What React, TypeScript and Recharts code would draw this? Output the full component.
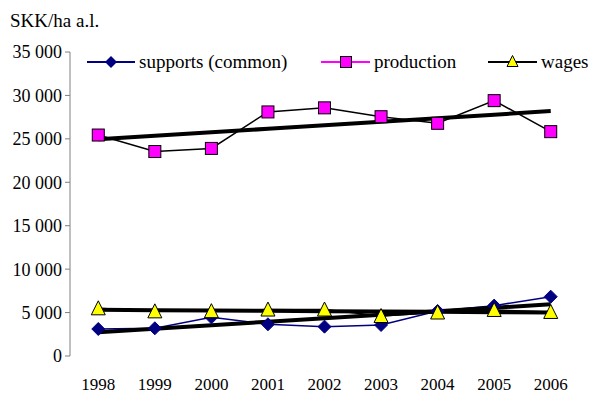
import React from 'react';
import { LineChart, Line, XAxis, YAxis, Legend } from 'recharts';

// Yearly figures, SKK per hectare of agricultural land
const years = ['1998', '1999', '2000', '2001', '2002', '2003', '2004', '2005', '2006'];
const supports = [3110, 3190, 4450, 3650, 3380, 3570, 5180, 5800, 6830];
const production = [25440, 23540, 23900, 28100, 28570, 27550, 26790, 29400, 25830];
const wages = [5490, 5140, 5160, 5350, 5350, 4600, 5010, 5300, 5070];
const yTicks = [0, 5000, 10000, 15000, 20000, 25000, 30000, 35000];

const NAVY = '#000080';
const MAGENTA = '#FF00FF';
const YELLOW = '#FFFF00';
const AXIS = '#808080';
const FONT = '"Liberation Serif", "Times New Roman", serif';

// Least-squares linear trend evaluated at each category
function linearTrend(values: number[]): number[] {
  const n = values.length;
  const mx = (n - 1) / 2;
  const my = values.reduce((a, b) => a + b, 0) / n;
  let sxy = 0;
  let sxx = 0;
  values.forEach((v, i) => {
    sxy += (i - mx) * (v - my);
    sxx += (i - mx) * (i - mx);
  });
  const slope = sxy / sxx;
  return values.map((_, i) => my + slope * (i - mx));
}

const supportsTrend = linearTrend(supports);
const productionTrend = linearTrend(production);
const wagesTrend = linearTrend(wages);

const data = years.map((year, i) => ({
  x: i + 0.5,
  year,
  supports: supports[i],
  production: production[i],
  wages: wages[i],
  supportsTrend: supportsTrend[i],
  productionTrend: productionTrend[i],
  wagesTrend: wagesTrend[i],
}));

const boundaryTicks = years.map((_, i) => i).concat([years.length]);
const centerTicks = years.map((_, i) => i + 0.5);

const fmt = (v: number) => {
  const s = String(Math.round(v));
  return s.replace(/\B(?=(\d{3})+(?!\d))/g, ' ');
};

const yTickStyle = { fontFamily: FONT, fontSize: 18, fill: '#000', style: { fontFamily: FONT } };
const xTickStyle = { fontFamily: FONT, fontSize: 17, fill: '#000', style: { fontFamily: FONT } };

const DiamondDot = (props: any) => {
  const { cx, cy, index } = props;
  if (cx == null || cy == null) return null;
  const r = 6.5;
  return (
    <polygon
      key={`d-${index}`}
      points={`${cx},${cy - r} ${cx + r},${cy} ${cx},${cy + r} ${cx - r},${cy}`}
      fill={NAVY}
      stroke={NAVY}
      strokeWidth={1}
    />
  );
};

const SquareDot = (props: any) => {
  const { cx, cy, index } = props;
  if (cx == null || cy == null) return null;
  const h = 6;
  return (
    <rect
      key={`s-${index}`}
      x={cx - h}
      y={cy - h}
      width={h * 2}
      height={h * 2}
      fill={MAGENTA}
      stroke="#000"
      strokeWidth={1}
    />
  );
};

const TriangleDot = (props: any) => {
  const { cx, cy, index } = props;
  if (cx == null || cy == null) return null;
  return (
    <polygon
      key={`t-${index}`}
      points={`${cx},${cy - 7.5} ${cx + 7},${cy + 6.5} ${cx - 7},${cy + 6.5}`}
      fill={YELLOW}
      stroke="#000"
      strokeWidth={1}
    />
  );
};

const LegendContent = () => (
  <svg width={592} height={26} style={{ display: 'block' }}>
    <g style={{ fontFamily: FONT, fontSize: 19 }} fill="#000">
      <line x1={87} y1={12} x2={135} y2={12} stroke={NAVY} strokeWidth={2} />
      <polygon points="111,6 117,12 111,18 105,12" fill={NAVY} />
      <text x={139} y={18}>supports (common)</text>

      <line x1={321} y1={12} x2={370} y2={12} stroke={MAGENTA} strokeWidth={2} />
      <rect x={340.5} y={6.5} width={11} height={11} fill={MAGENTA} stroke="#000" strokeWidth={1} />
      <text x={374} y={18}>production</text>

      <line x1={488} y1={12} x2={537} y2={12} stroke="#000" strokeWidth={2} />
      <polygon points="512.5,5.5 518,16.5 507,16.5" fill={YELLOW} stroke="#000" strokeWidth={1} />
      <text x={541} y={18}>wages</text>
    </g>
  </svg>
);

export default function App() {
  return (
    <div style={{ position: 'absolute', left: 0, top: 0, width: 592, height: 394, background: '#fff' }}>
      <div
        style={{
          position: 'absolute',
          left: 10,
          top: 10,
          fontFamily: FONT,
          fontSize: 19,
          lineHeight: '22px',
          color: '#000',
        }}
      >
        SKK/ha a.l.
      </div>
      <LineChart
        width={592}
        height={394}
        data={data}
        margin={{ top: 52, right: 13, bottom: 0, left: 8 }}
      >
        <XAxis
          xAxisId="bounds"
          dataKey="x"
          type="number"
          domain={[0, years.length]}
          ticks={boundaryTicks}
          allowDataOverflow
          height={0}
          tickSize={5}
          tickFormatter={() => ''}
          stroke={AXIS}
          axisLine={{ stroke: AXIS }}
          tickLine={{ stroke: AXIS }}
        />
        <XAxis
          xAxisId="years"
          dataKey="x"
          type="number"
          domain={[0, years.length]}
          ticks={centerTicks}
          allowDataOverflow
          height={38}
          axisLine={false}
          tickLine={false}
          tickSize={0}
          tickMargin={21.5}
          interval={0}
          tickFormatter={(v: number) => years[Math.floor(v)]}
          tick={xTickStyle}
        />
        <YAxis
          width={62}
          domain={[0, 35000]}
          ticks={yTicks}
          interval={0}
          tickSize={5}
          tickMargin={3}
          tickFormatter={fmt}
          stroke={AXIS}
          axisLine={{ stroke: AXIS }}
          tickLine={{ stroke: AXIS }}
          tick={yTickStyle}
        />
        <Legend
          verticalAlign="middle"
          layout="horizontal"
          align="center"
          content={<LegendContent />}
          wrapperStyle={{ position: 'absolute', left: 0, top: 50, width: 592, height: 26 }}
        />
        <Line
          xAxisId="years"
          dataKey="supports"
          stroke={NAVY}
          strokeWidth={1.5}
          dot={<DiamondDot />}
          activeDot={false}
          isAnimationActive={false}
          legendType="none"
        />
        <Line
          xAxisId="years"
          dataKey="production"
          stroke="#000"
          strokeWidth={1.5}
          dot={<SquareDot />}
          activeDot={false}
          isAnimationActive={false}
          legendType="none"
        />
        <Line
          xAxisId="years"
          dataKey="wages"
          stroke="#000"
          strokeWidth={1.5}
          dot={<TriangleDot />}
          activeDot={false}
          isAnimationActive={false}
          legendType="none"
        />
        <Line
          xAxisId="years"
          dataKey="supportsTrend"
          stroke="#000"
          strokeWidth={4}
          dot={false}
          activeDot={false}
          isAnimationActive={false}
          legendType="none"
        />
        <Line
          xAxisId="years"
          dataKey="productionTrend"
          stroke="#000"
          strokeWidth={4}
          dot={false}
          activeDot={false}
          isAnimationActive={false}
          legendType="none"
        />
        <Line
          xAxisId="years"
          dataKey="wagesTrend"
          stroke="#000"
          strokeWidth={4}
          dot={false}
          activeDot={false}
          isAnimationActive={false}
          legendType="none"
        />
      </LineChart>
    </div>
  );
}
